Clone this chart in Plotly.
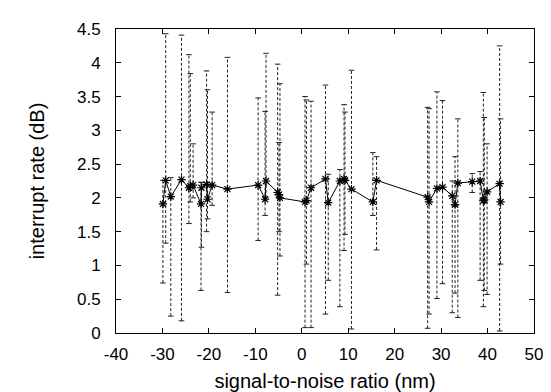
import plotly.graph_objects as go

# signal-to-noise ratio (nm)
snr = [-29.9, -29.3, -28.2, -25.9, -24.3, -24.0, -23.4, -21.7, -21.6, -20.5, -20.3, -19.3,
       -16.0, -9.4, -7.9, -7.7, -5.2, -4.9, -4.7, 0.7, 1.0, 2.0, 5.1, 5.7, 8.2, 9.1, 9.3,
       10.7, 15.3, 16.1, 27.1, 27.4, 29.1, 30.3, 32.4, 33.0, 33.6, 36.7, 38.4, 39.1, 39.3,
       39.9, 42.6, 42.8]
# interrupt rate (dB)
rate = [1.91, 2.26, 2.02, 2.27, 2.15, 2.17, 2.19, 1.91, 2.15, 2.20, 1.98, 2.19,
        2.13, 2.19, 1.98, 2.25, 2.08, 2.05, 2.00, 1.94, 1.96, 2.15, 2.28, 1.93, 2.25, 2.28, 2.26,
        2.13, 1.94, 2.26, 2.01, 1.94, 2.14, 2.16, 2.03, 1.90, 2.22, 2.24, 2.25, 1.96, 1.97,
        2.09, 2.21, 1.94]
rate_low = [0.74, 1.33, 0.25, 0.18, 1.62, 1.94, 2.00, 0.63, 1.27, 1.50, 1.69, 1.89,
            0.60, 1.37, 1.74, 2.00, 0.56, 1.50, 1.14, 0.08, 1.02, 0.08, 0.28, 0.78, 0.39, 1.22, 1.46,
            0.06, 1.74, 1.23, 0.07, 0.28, 0.51, 0.73, 0.30, 0.59, 0.23, 2.08, 0.78, 0.39, 0.63,
            0.57, 0.03, 1.02]
rate_high = [2.26, 4.43, 2.30, 4.41, 4.12, 3.84, 2.80, 2.23, 2.23, 3.88, 3.60, 3.27,
             4.08, 3.48, 3.28, 4.14, 3.98, 2.82, 3.69, 3.50, 3.45, 3.43, 3.67, 2.35, 2.42, 3.38, 3.27,
             3.89, 2.67, 2.61, 3.34, 3.32, 3.57, 3.44, 2.25, 2.61, 3.17, 2.36, 2.39, 3.56, 3.19,
             2.80, 4.25, 3.17]

x_ticks = list(range(-40, 51, 10))
y_ticks = [0, 0.5, 1, 1.5, 2, 2.5, 3, 3.5, 4, 4.5]

# vertical error segments
ex, ey = [], []
cx, cy = [], []
for xv, lo, hi in zip(snr, rate_low, rate_high):
    ex += [xv, xv, None]
    ey += [lo, hi, None]
    cx += [xv, xv]
    cy += [lo, hi]

fig = go.Figure()
fig.add_trace(go.Scatter(
    x=ex, y=ey, mode="lines",
    line=dict(color="#222222", width=1, dash="3px,2px"),
    hoverinfo="skip", showlegend=False))
fig.add_trace(go.Scatter(
    x=cx, y=cy, mode="markers",
    marker=dict(symbol="line-ew", size=4, line=dict(color="#222222", width=1)),
    hoverinfo="skip", showlegend=False))
fig.add_trace(go.Scatter(
    x=snr, y=rate, mode="lines+markers",
    line=dict(color="black", width=1),
    marker=dict(symbol="asterisk-open", size=7, color="black", line=dict(color="black", width=1.2)),
    showlegend=False))

axis_font = dict(family="Liberation Sans, Arial, sans-serif", size=17, color="black")
fig.update_layout(
    width=551, height=392,
    margin=dict(l=108, r=25, t=16, b=64),
    paper_bgcolor="white", plot_bgcolor="white",
    font=axis_font,
    xaxis=dict(range=[-40, 50], tickvals=x_ticks, ticktext=[str(v) for v in x_ticks],
               ticks="inside", ticklen=5, tickcolor="black", mirror="ticks",
               showline=True, linecolor="black", linewidth=1, showgrid=False, zeroline=False,
               ticklabelstandoff=6,
               title=dict(text="signal-to-noise ratio (nm)", standoff=10), tickfont=axis_font),
    yaxis=dict(range=[0, 4.5], tickvals=y_ticks, ticktext=[f"{v:g}" for v in y_ticks],
               ticks="inside", ticklen=5, tickcolor="black", mirror="ticks",
               showline=True, linecolor="black", linewidth=1, showgrid=False, zeroline=False,
               ticklabelstandoff=11,
               title=dict(text="interrupt rate (dB)", standoff=26), tickfont=axis_font),
)
fig.write_html("out.html")
